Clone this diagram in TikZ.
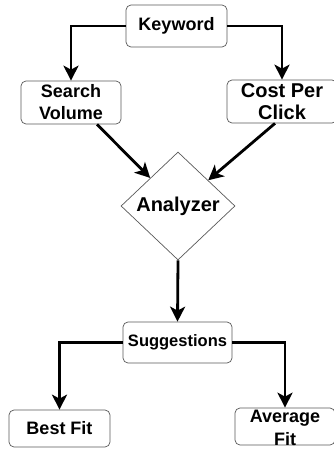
\documentclass[tikz,border=0pt]{standalone}
\usepackage{fontspec}
\setmainfont{Liberation Sans}
\usetikzlibrary{shapes.geometric, arrows.meta}

\begin{document}
\begin{tikzpicture}[x=1pt, y=-1pt,
  box/.style={draw=black!65, line width=0.7pt, rounded corners=5pt, fill=white, align=center, inner sep=0pt, font=\fontsize{18}{22}\selectfont\bfseries},
  decision/.style={draw=black!65, line width=0.7pt, diamond, fill=white, inner sep=0pt, font=\fontsize{20}{24}\selectfont\bfseries},
  flow/.style={line width=2.8pt, -{Stealth[length=15pt, width=15pt, inset=4pt]}}]
\useasboundingbox (0,0) rectangle (333,449);

\node[box, minimum width=101pt, minimum height=42pt] (keyword) at (176.5,26) {Keyword};
\node[box, minimum width=100pt, minimum height=43pt] (searchVolume) at (71,102.5) {Search\\Volume};
\node[box, minimum width=110pt, minimum height=43pt, font=\fontsize{20}{22}\selectfont\bfseries] (costPerClick) at (282,101.5) {Cost Per\\Click};
\node[decision, minimum width=114pt, minimum height=108pt] (analyzer) at (178,206) {Analyzer};
\node[box, minimum width=109pt, minimum height=41pt, font=\fontsize{16.5}{20}\selectfont\bfseries] (suggestions) at (177.5,342.5) {Suggestions};
\node[box, minimum width=101pt, minimum height=37pt] (bestFit) at (59.5,428.5) {Best Fit};
\node[box, minimum width=100pt, minimum height=37pt] (averageFit) at (285,426.5) {};
\node[align=center, inner sep=0pt, font=\fontsize{18}{23}\selectfont\bfseries] (averageFitText) at (285,428) {Average\\Fit};

\draw[flow] (keyword.west) -| (searchVolume.north);
\draw[flow] (keyword.east) -| (costPerClick.north);
\draw[flow] ([xshift=26pt]searchVolume.south) -- (analyzer);
\draw[flow] ([xshift=-7pt]costPerClick.south) -- (analyzer);
\draw[flow] (analyzer.south) -- (suggestions.north);
\draw[flow] (suggestions.west) -| (bestFit.north);
\draw[flow] (suggestions.east) -| (averageFit.north);

\end{tikzpicture}
\end{document}
